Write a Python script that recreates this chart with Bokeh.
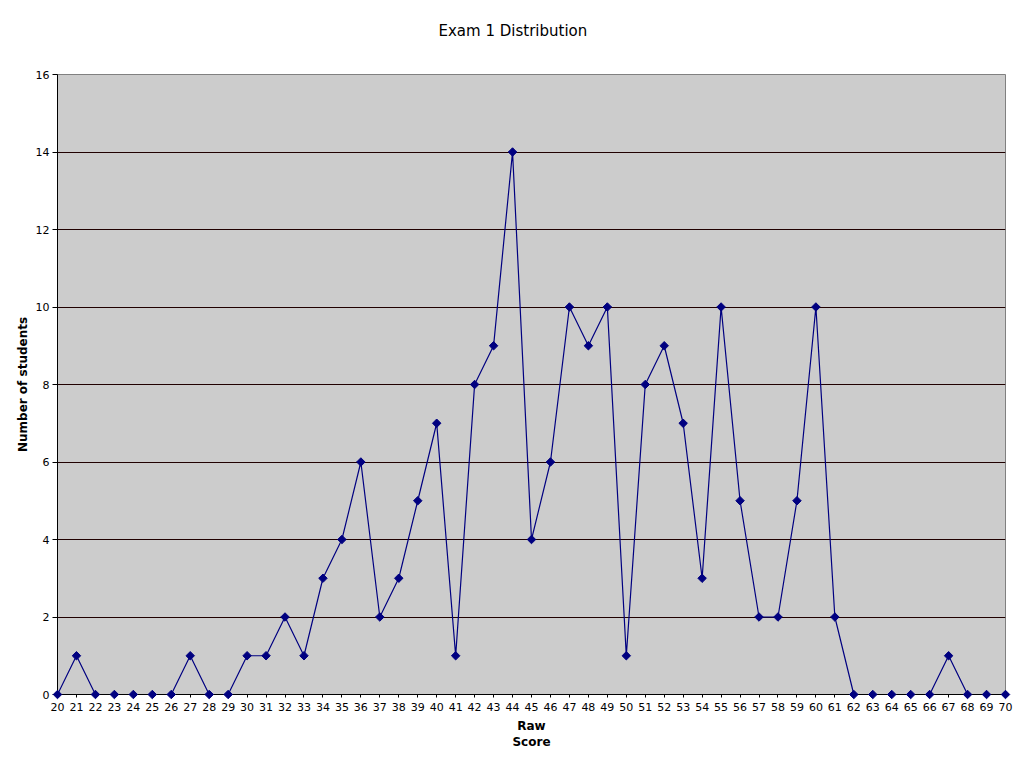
import math
from bokeh.plotting import figure
from bokeh.models import FixedTicker, Range1d, Title
from bokeh.embed import file_html
from bokeh.resources import INLINE

scores = list(range(20, 71))
students = [0, 1, 0, 0, 0, 0, 0, 1, 0, 0,
            1, 1, 2, 1, 3, 4, 6, 2, 3, 5,
            7, 1, 8, 9, 14, 4, 6, 10, 9, 10,
            1, 8, 9, 7, 3, 10, 5, 2, 2, 5,
            10, 2, 0, 0, 0, 0, 0, 1, 0, 0,
            0]
y_ticks = [0, 2, 4, 6, 8, 10, 12, 14, 16]
title_text = "Exam 1 Distribution"

FONT = "DejaVu Sans"

p = figure(width=1016, height=760, output_backend="svg", toolbar_location=None,
           x_range=Range1d(20, 70), y_range=Range1d(0, 16),
           min_border_left=57, min_border_right=11, min_border_top=74, min_border_bottom=66)

# trailing empty line lifts the title text higher above the frame
p.title = Title(text=title_text + "\n", align="left", offset=381, vertical_align="bottom",
                text_font=FONT, text_font_size="15px", text_font_style="normal",
                text_color="black", standoff=34)

p.background_fill_color = "#CCCCCC"
p.border_fill_color = "white"
p.outline_line_color = "#808080"
p.outline_line_width = 1

p.xgrid.visible = False
p.ygrid.grid_line_color = "#200000"
p.ygrid.grid_line_width = 1
p.ygrid.ticker = FixedTicker(ticks=y_ticks)

p.xaxis.ticker = FixedTicker(ticks=scores)
p.yaxis.ticker = FixedTicker(ticks=y_ticks)
for ax in (p.xaxis[0], p.yaxis[0]):
    ax.axis_line_color = "black"
    ax.major_tick_line_color = "black"
    ax.major_tick_in = 0
    ax.minor_tick_line_color = None
    ax.major_label_text_font = FONT
    ax.major_label_text_font_size = "11px"
    ax.major_label_text_color = "black"
    ax.axis_label_text_font = FONT
    ax.axis_label_text_font_size = "12px"
    ax.axis_label_text_font_style = "bold"
    ax.axis_label_text_color = "black"

p.xaxis.major_tick_out = 3
p.yaxis.major_tick_out = 5
p.yaxis.major_label_standoff = 3
p.xaxis.major_label_standoff = 5

p.xaxis.axis_label = "Raw\nScore"
p.xaxis.axis_label_standoff = 5
p.yaxis.axis_label = "Number of students"
p.yaxis.axis_label_standoff = 3

p.line(scores, students, line_color="#000080", line_width=1.2)
p.scatter(scores, students, marker="square", angle=math.pi / 4, size=6,
          fill_color="#000080", line_color="#000080", level="overlay")

open("out.html", "w").write(file_html(p, INLINE))
